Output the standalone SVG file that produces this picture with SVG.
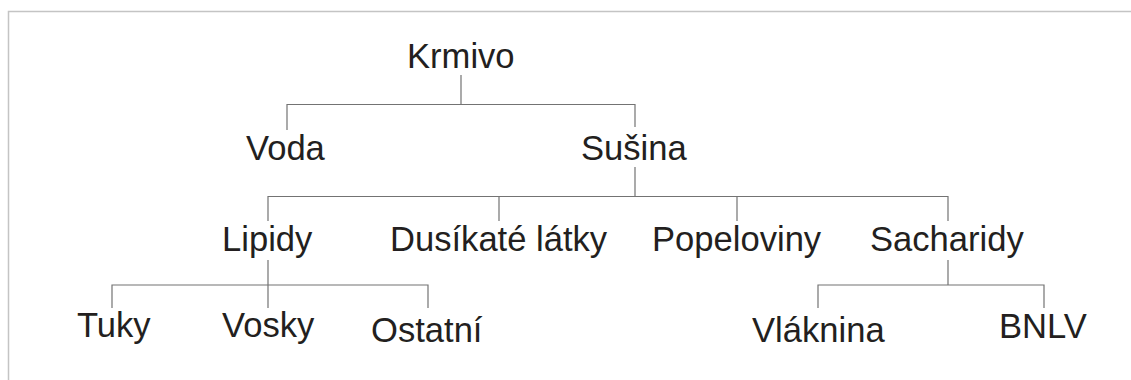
<svg xmlns="http://www.w3.org/2000/svg" width="1131" height="380" viewBox="0 0 1131 380">
  <style>
    .lbl { font-family: "Liberation Sans", Arial, sans-serif; font-size: 34.6px; fill: #231f20; }
    .con { fill: none; stroke: #737373; stroke-width: 1.2; }
    .frame { fill: none; stroke: #c4c4c4; stroke-width: 1.5; }
  </style>
  <rect width="1131" height="380" fill="#ffffff"/>
  <!-- page frame -->
  <path class="frame" d="M8.5 380 V11.5 H1131"/>

  <g id="connectors">
    <!-- Krmivo -> Voda, Sušina -->
    <path class="con" d="M461 75 V104.5 M287 130 V104.5 H635 V127"/>
    <!-- Sušina -> Lipidy, Dusíkaté látky, Popeloviny, Sacharidy -->
    <path class="con" d="M635 167 V196.5 M268 221 V196.5 H948 V221 M499 196.5 V221 M737 196.5 V221"/>
    <!-- Lipidy -> Tuky, Vosky, Ostatní -->
    <path class="con" d="M268 260 V308 M112 308 V285 H428 V308"/>
    <!-- Sacharidy -> Vláknina, BNLV -->
    <path class="con" d="M948 260 V285 M818 308 V285 H1044 V308"/>
  </g>

  <g id="node-krmivo"><text class="lbl" x="407" y="68">Krmivo</text></g>
  <g id="node-voda"><text class="lbl" x="246" y="160">Voda</text></g>
  <g id="node-susina"><text class="lbl" x="581" y="160">Sušina</text></g>
  <g id="node-lipidy"><text class="lbl" x="222" y="251">Lipidy</text></g>
  <g id="node-dusikate"><text class="lbl" x="390" y="251">Dusíkaté látky</text></g>
  <g id="node-popeloviny"><text class="lbl" x="652" y="251">Popeloviny</text></g>
  <g id="node-sacharidy"><text class="lbl" x="870" y="251">Sacharidy</text></g>
  <g id="node-tuky"><text class="lbl" x="77" y="337">Tuky</text></g>
  <g id="node-vosky"><text class="lbl" x="222" y="337">Vosky</text></g>
  <g id="node-ostatni"><text class="lbl" x="371" y="342">Ostatní</text></g>
  <g id="node-vlaknina"><text class="lbl" x="752" y="342">Vláknina</text></g>
  <g id="node-bnlv"><text class="lbl" x="999" y="338">BNLV</text></g>
</svg>
